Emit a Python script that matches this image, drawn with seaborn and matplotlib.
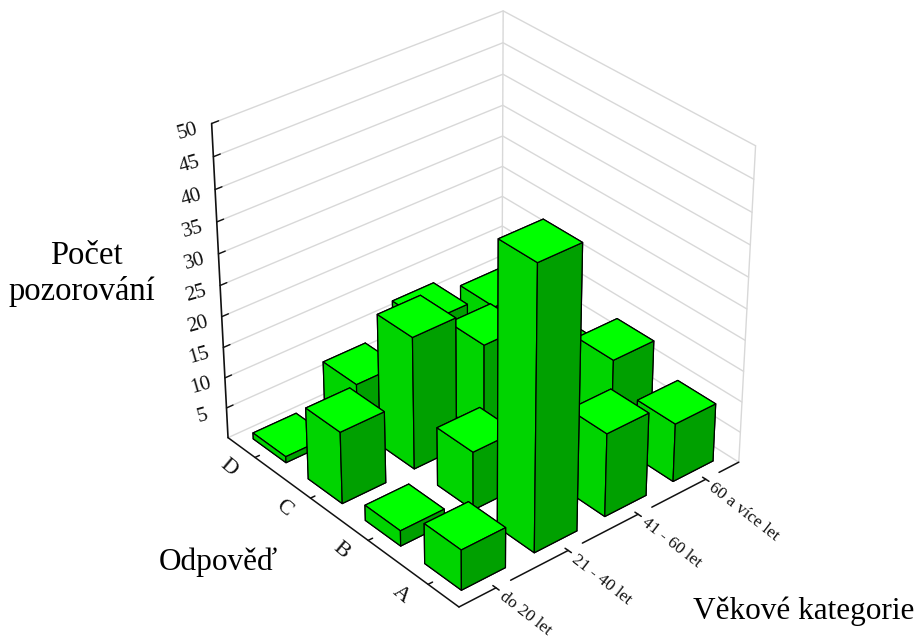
from mpl_toolkits.mplot3d import proj3d
import numpy as np
import pandas as pd
import matplotlib
matplotlib.use("Agg")
import matplotlib.pyplot as plt
import seaborn as sns

### Data
age_labels = ["do 20 let", "21 - 40 let", "41 - 60 let", "60 a více let"]
answer_labels = ["A", "B", "C", "D"]
z_ticks = [5, 10, 15, 20, 25, 30, 35, 40, 45, 50]

count_a = [6.5, 45, 13.5, 9.5]
count_b = [2.5, 9.5, 5, 13.5]
count_c = [11.7, 21.5, 15, 8]
count_d = [1, 7.5, 12.5, 10]

df = pd.DataFrame({"A": count_a, "B": count_b, "C": count_c, "D": count_d}, index=range(4))
df = df.melt(ignore_index=False, var_name="answer", value_name="count").reset_index(names="age")
df["answer_idx"] = df.answer.map({a: i for i, a in enumerate(answer_labels)})
# back to front, the faces are painted in this order
df = df.assign(depth=df.age + df.answer_idx).sort_values("depth", ascending=False)

sns.set_theme(style="white", rc={"axes.facecolor": "white", "figure.facecolor": "white"})
plt.rcParams["font.family"] = ["Liberation Serif", "DejaVu Serif"]

W, H = 918, 639
fig = plt.figure(figsize=(W / 100, H / 100), dpi=100)
ax = fig.add_axes([14.3 / W, 13.7 / H, 1, 1], projection="3d", computed_zorder=False)
ax.view_init(elev=32.13, azim=-130.21)
ax.set_proj_type("persp", focal_length=0.91)
ax.set_box_aspect((1, 1, 0.995), zoom=0.982)
ax.set_xlim(0, 4)
ax.set_ylim(0, 4)
ax.set_zlim(0, 50)
ax.set_axis_off()
ax.apply_aspect()

grid_c = "#d8d8d8"
line_c = "#111111"


def label_at(x, y, z, dx, dy, text, **kwargs):
    # text next to a 3D point, offset in pixels (dy is downwards)
    px, py, _ = proj3d.proj_transform(x, y, z, ax.get_proj())
    px, py = ax.transData.transform((px, py))
    fig.text((px + dx) / W, (py - dy) / H, text, color=line_c, **kwargs)


### Back walls
for cur_z in z_ticks:
    ax.plot([0, 4, 4], [4, 4, 0], [cur_z, cur_z, cur_z], c=grid_c, lw=1.0, zorder=1)
    ax.plot([0, 0.09], [4, 4], [cur_z, cur_z], c=line_c, lw=1.0, zorder=2)
ax.plot([4, 4], [4, 4], [0, 50], c=grid_c, lw=1.0, zorder=1)
ax.plot([4, 4], [0, 0], [0, 50], c=grid_c, lw=1.0, zorder=1)
ax.plot([0, 4, 4], [4, 4, 0], [0, 0, 0], c=grid_c, lw=1.0, zorder=1)
ax.plot([0, 0], [4, 4], [0, 50], c=line_c, lw=1.2, zorder=2)

### Floor axes, age axis is broken after each tick where the label sits
ax.plot([0, 0], [0, 4], [0, 0], c=line_c, lw=1.1, zorder=2)
for i in range(4):
    start = 0.0 if i == 0 else i - 0.5 + 0.2
    ax.plot([start, i + 0.5], [0, 0], [0, 0], c=line_c, lw=1.1, zorder=2)
    ax.plot([i + 0.5, i + 0.5], [0.05, -0.05], [0, 0], c=line_c, lw=1.1, zorder=2)
    ax.plot([0, 0.06], [i + 0.5, i + 0.5], [0, 0], c=line_c, lw=1.1, zorder=2)
ax.plot([3.7, 4], [0, 0], [0, 0], c=line_c, lw=1.1, zorder=2)

### Bars
bar_w = 0.6
face_colors = ["#00ff00", "#00ff00", "#00a000", "#00a000", "#00d400", "#00d400"]
for cur_ix, row in enumerate(df.itertuples()):
    ax.bar3d(row.age + 0.5 - bar_w / 2, row.answer_idx + 0.5 - bar_w / 2, 0,
             bar_w, bar_w, row.count,
             color=face_colors, edgecolor="black", linewidth=0.9, shade=False, zorder=3 + cur_ix)

### Tick labels
for cur_z in z_ticks:
    label_at(0, 4, cur_z, -24, 8, str(cur_z), fontsize=15, rotation=16, ha="center", va="center")
for i, cur_label in enumerate(age_labels):
    label_at(i + 0.5, 0, 0, 5, 7, cur_label, fontsize=12.5, rotation=-38, rotation_mode="anchor",
             ha="left", va="center")
for i, cur_label in enumerate(answer_labels):
    label_at(0, i + 0.5, 0, -27, 10, cur_label, fontsize=16, rotation=-40, ha="center", va="center")

### Axis titles
fig.text(86 / W, 1 - 256 / H, "Počet", fontsize=23.5, ha="center", va="center", color="black")
fig.text(82 / W, 1 - 292 / H, "pozorování", fontsize=23.5, ha="center", va="center", color="black")
fig.text(218 / W, 1 - 562 / H, "Odpověď", fontsize=22.5, ha="center", va="center", color="black")
fig.text(804 / W, 1 - 611 / H, "Věkové kategorie", fontsize=22.5, ha="center", va="center", color="black")

fig.savefig("out.png", dpi=100)
